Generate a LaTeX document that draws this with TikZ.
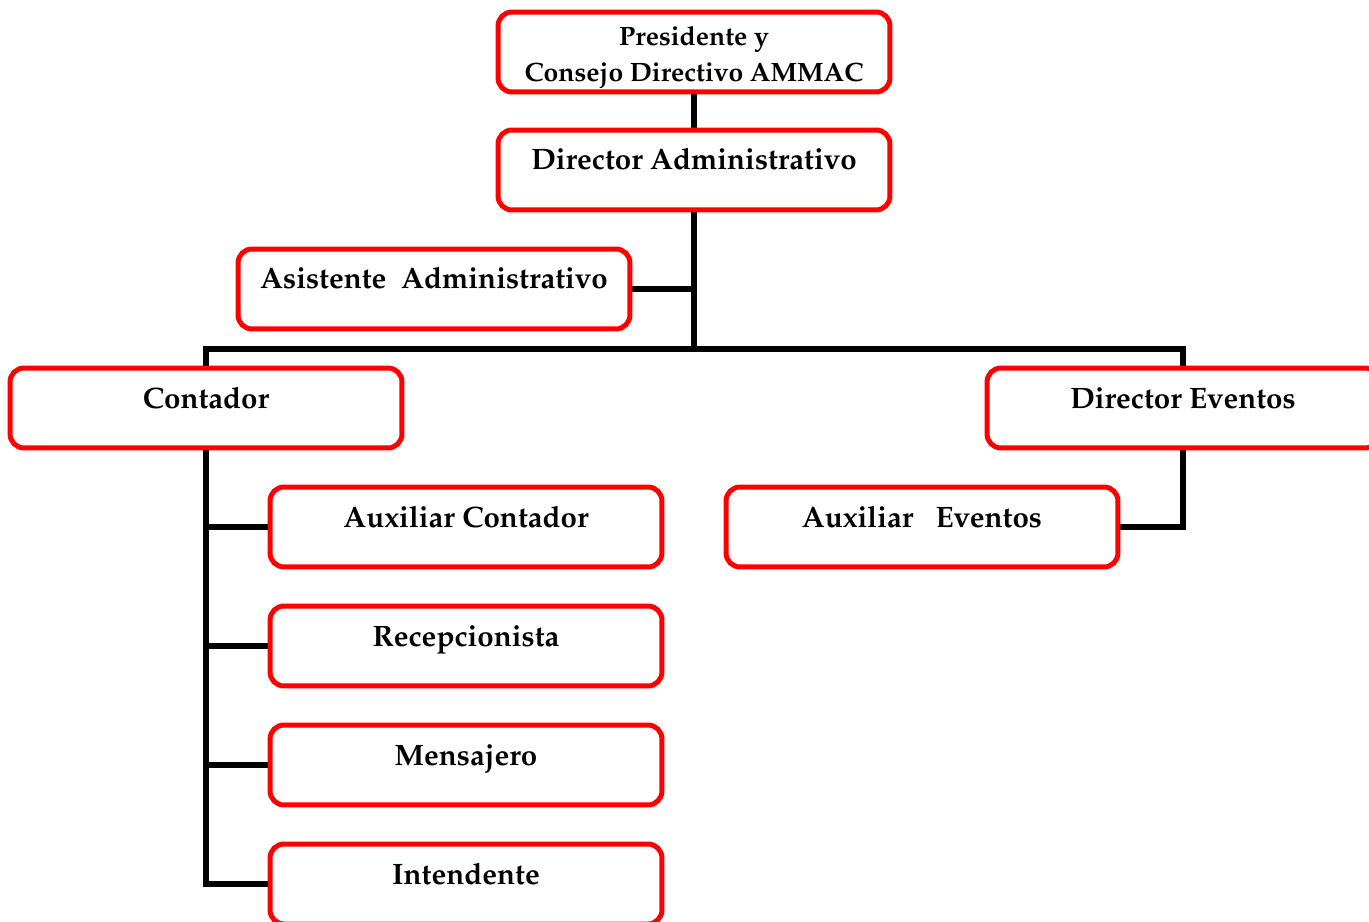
\documentclass[tikz,border=0pt]{standalone}
\usepackage[T1]{fontenc}
\usepackage{mathpazo}
\pgfdeclarelayer{bg}
\pgfsetlayers{bg,main}
\begin{document}
\begin{tikzpicture}[x=0.02cm,y=-0.02cm,
  box/.style={draw=red, line width=0.1cm, rounded corners=0.28cm,
    minimum width=7.84cm, minimum height=1.6cm, inner sep=0pt, outer sep=0pt, fill=white},
  lbl/.style={anchor=base, font=\bfseries\fontsize{16.8}{20}\selectfont, inner sep=0pt},
  plbl/.style={anchor=base, font=\bfseries\fontsize{15.1}{18}\selectfont, inner sep=0pt},
  conn/.style={draw=black, line width=0.11cm, line join=miter}]
\useasboundingbox (0,0) rectangle (1369,922);
\clip (0,0) rectangle (1369,922);
\node[box] (pres) at (694,52) {};
\node[box] (dira) at (694,170) {};
\node[box] (asis) at (434,289) {};
\node[box] (cont) at (206,408) {};
\node[box] (dire) at (1183,408) {};
\node[box] (auxe) at (922,527) {};
\node[box] (auxc) at (466,527) {};
\node[box] (recp) at (466,646) {};
\node[box] (mens) at (466,765) {};
\node[box] (inte) at (466,884) {};
\node[plbl] (tp1) at (694,46) {Presidente y};
\node[plbl] (tp2) at (694,82) {Consejo Directivo AMMAC};
\node[lbl] (tda) at (dira.center) {Director Administrativo};
\node[lbl] (tas) at (asis.center) {Asistente\ \ Administrativo};
\node[lbl] (tco) at (cont.center) {Contador};
\node[lbl] (tde) at (dire.center) {Director Eventos};
\node[lbl] (tae) at (auxe.center) {Auxiliar\ \ \ Eventos};
\node[lbl] (tac) at (auxc.center) {Auxiliar Contador};
\node[lbl] (tre) at (recp.center) {Recepcionista};
\node[lbl] (tme) at (mens.center) {Mensajero};
\node[lbl] (tin) at (inte.center) {Intendente};
\coordinate (hl) at (206,349);
\coordinate (hm) at (694,349);
\coordinate (hr) at (1183,349);
\begin{pgfonlayer}{bg}
\draw[conn] (pres.south) -- (dira.north);
\draw[conn] (dira.south) -- (hm);
\draw[conn] (asis.east) -- (asis.east -| hm);
\draw[conn] (cont.north) -- (hl) -- (hr) -- (dire.north);
\draw[conn] (cont.south) |- (inte.west);
\draw[conn] (auxc.west -| cont.south) -- (auxc.west);
\draw[conn] (recp.west -| cont.south) -- (recp.west);
\draw[conn] (mens.west -| cont.south) -- (mens.west);
\draw[conn] (dire.south) |- (auxe.east);
\end{pgfonlayer}
\end{tikzpicture}
\end{document}
